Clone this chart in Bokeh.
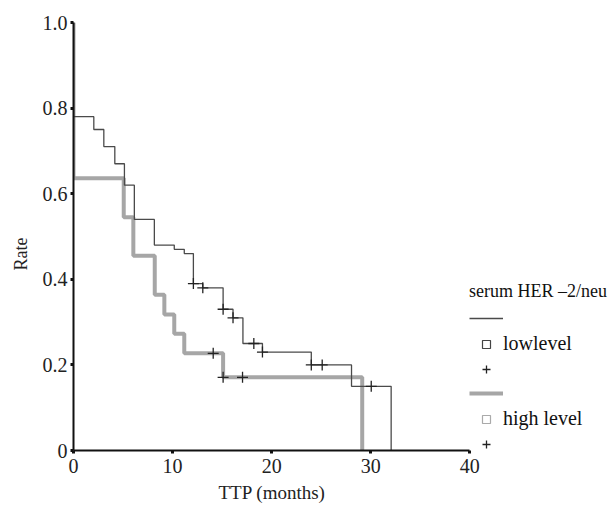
from bokeh.plotting import figure
from bokeh.models import Range1d, FixedTicker, Legend, LegendItem, ColumnDataSource, Title
from bokeh.core.properties import value
from bokeh.embed import file_html
from bokeh.resources import INLINE

# ---- data ----
low_t = [0, 0, 2.05, 3.06, 4.17, 5.14, 6.14, 8.16, 10.17, 11.18, 12.1, 13.05, 15.1, 16.1, 17.1, 19.07, 24.0, 28.06, 32.06]
low_s = [1.0, 0.78, 0.75, 0.71, 0.67, 0.62, 0.54, 0.48, 0.47, 0.46, 0.39, 0.38, 0.33, 0.31, 0.25, 0.23, 0.20, 0.15, 0.0]
low_cens_t = [12.1, 13.05, 15.1, 16.1, 18.2, 19.07, 24.0, 25.1, 30.05]

high_t = [0, 0, 5.07, 6.04, 8.2, 9.17, 10.17, 11.18, 15.1, 29.14]
high_s = [1.0, 0.636, 0.545, 0.455, 0.364, 0.318, 0.273, 0.227, 0.171, 0.0]
high_cens_t = [14.1, 15.1, 17.06]

x_ticks = [0, 10, 20, 30, 40]
y_ticks = [0, 0.2, 0.4, 0.6, 0.8, 1.0]
y_tick_labels = ["0", "0.2", "0.4", "0.6", "0.8", "1.0"]

x_title = "TTP (months)"
y_title = "Rate"
legend_title = "serum HER \u20132/neu"
group_labels = ["lowlevel", "high level"]


def surv_at(ts, ss, t):
    v = ss[0]
    for ti, si in zip(ts, ss):
        if ti <= t + 1e-9:
            v = si
    return v


low_cens_s = [surv_at(low_t, low_s, t) for t in low_cens_t]
high_cens_s = [surv_at(high_t, high_s, t) for t in high_cens_t]

SERIF = "Liberation Serif"

# the frame extends to the right edge so that the legend lives inside it;
# the x axis itself is bounded to 0..40
p = figure(width=612, height=511, x_range=Range1d(0, 54.4), y_range=Range1d(0, 1.0),
           output_backend="svg", toolbar_location=None,
           min_border_left=72, min_border_right=0, min_border_top=22, min_border_bottom=61)
p.outline_line_color = None
p.grid.visible = False
p.background_fill_color = "white"
p.border_fill_color = "white"

for ax in (p.xaxis[0], p.yaxis[0]):
    ax.axis_line_color = "#111111"
    ax.axis_line_width = 2
    ax.major_tick_line_color = "#111111"
    ax.major_tick_line_width = 3
    ax.major_tick_out = 3
    ax.major_tick_in = 0
    ax.minor_tick_line_color = None
    ax.major_label_text_font = SERIF
    ax.major_label_text_font_size = "20px"
    ax.major_label_text_color = "#222222"

p.xaxis.bounds = (x_ticks[0], x_ticks[-1])
p.xaxis.ticker = FixedTicker(ticks=x_ticks)
p.yaxis.ticker = FixedTicker(ticks=y_ticks)
p.yaxis.major_label_overrides = {t: l for t, l in zip(y_ticks, y_tick_labels)}
p.xaxis.major_label_standoff = 5
p.yaxis.major_label_standoff = 3

# axis titles placed as in the reference
p.add_layout(Title(text=x_title, align="left", offset=145, standoff=8, text_font=SERIF,
                   text_font_size="19px", text_font_style="normal", text_color="#222222"), "below")
p.add_layout(Title(text=y_title, align="left", offset=180, standoff=17, text_font=SERIF,
                   text_font_size="18px", text_font_style="normal", text_color="#222222"), "left")

# curves
r_high = p.step(high_t, high_s, mode="after", line_color="#a6a6a6", line_width=4)
r_low = p.step(low_t, low_s, mode="after", line_color="#4a4a4a", line_width=1.3)
r_low_c = p.scatter(low_cens_t, low_cens_s, marker="cross", size=11, line_color="#222222", line_width=1.3)
r_high_c = p.scatter(high_cens_t, high_cens_s, marker="cross", size=11, line_color="#222222", line_width=1.3)

# legend-only square markers (NaN point: nothing drawn in the plot)
nan = float("nan")
r_low_sq = p.scatter("x", "y", source=ColumnDataSource(data=dict(x=[nan], y=[nan])), marker="square",
                     size=7, fill_color=None, line_color="#444444", line_width=1.2)
r_high_sq = p.scatter("x", "y", source=ColumnDataSource(data=dict(x=[nan], y=[nan])), marker="square",
                      size=7, fill_color=None, line_color="#aaaaaa", line_width=1.2)

items = [
    LegendItem(label=value(" "), renderers=[r_low]),
    LegendItem(label=value(group_labels[0]), renderers=[r_low_sq]),
    LegendItem(label=value(" "), renderers=[r_low_c]),
    LegendItem(label=value(" "), renderers=[r_high]),
    LegendItem(label=value(group_labels[1]), renderers=[r_high_sq]),
    LegendItem(label=value(" "), renderers=[r_high_c]),
]
legend = Legend(items=items, location=(396, -4), padding=0, margin=0, spacing=4,
                glyph_width=34, glyph_height=20, label_height=20, label_standoff=0,
                label_text_font=SERIF, label_text_font_size="20px", label_text_color="#111111",
                title=legend_title, title_text_font=SERIF, title_text_font_size="18px",
                title_text_font_style="normal", title_text_color="#111111", title_standoff=6,
                border_line_color=None, background_fill_alpha=0)
p.add_layout(legend)

open("out.html", "w").write(file_html(p, INLINE))
